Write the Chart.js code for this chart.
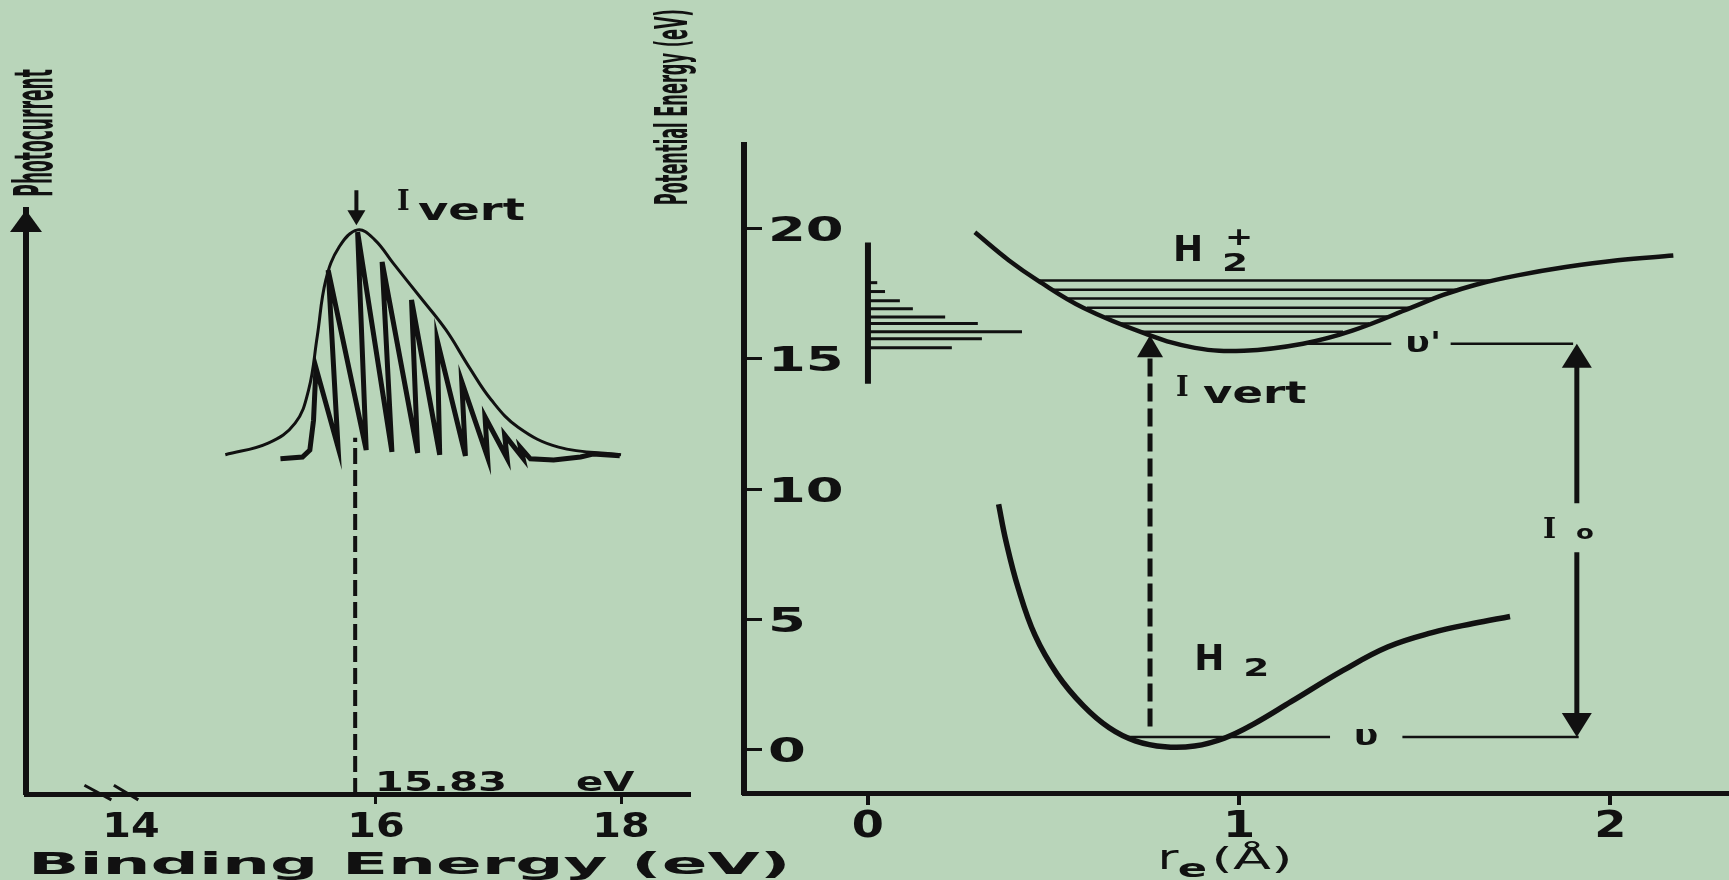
<!DOCTYPE html>
<html>
<head>
<meta charset="utf-8">
<title>H2 photoelectron band and potential energy curves</title>
<script src="https://cdn.jsdelivr.net/npm/chart.js@4.4.1/dist/chart.umd.min.js"></script>
<style>
  html, body { margin: 0; padding: 0; background: #b9d5ba; }
  #stage { position: relative; width: 1729px; height: 880px; overflow: hidden; }
  #stage canvas { position: absolute; top: 0; }
  #spectrum { left: 0; }
  #curves { left: 600px; }
</style>
</head>
<body>
<div id="stage">
  <canvas id="spectrum" width="800" height="880"></canvas>
  <canvas id="curves" width="1129" height="880"></canvas>
</div>
<script>
// left panel: H2 band, binding energy (eV) vs photocurrent (arb. units)
const beTicks = [14, 16, 18];
const resolvedBE = [15.22, 15.40, 15.46, 15.49, 15.51, 15.69, 15.61, 15.92, 15.85, 16.13, 16.05, 16.34, 16.29, 16.52, 16.50, 16.73, 16.70, 16.91, 16.89, 17.07, 17.05, 17.20, 17.18, 17.26, 17.45, 17.67, 17.77, 17.99];
const resolvedCurrent = [57.4, 57.7, 58.9, 64.0, 73.0, 59.4, 89.7, 58.9, 96.2, 58.6, 91.1, 58.4, 84.6, 58.1, 77.7, 57.9, 70.6, 57.7, 64.6, 57.5, 61.5, 57.5, 59.3, 57.4, 57.2, 57.7, 58.2, 57.9];
const envelopeBE = [14.77, 15.12, 15.34, 15.45, 15.52, 15.59, 15.70, 15.85, 15.99, 16.14, 16.36, 16.57, 16.76, 16.94, 17.16, 17.49, 18.00];
const envelopeCurrent = [58.1, 60.1, 63.5, 69.2, 78.3, 88.0, 93.7, 96.6, 94.9, 90.9, 85.1, 79.5, 73.1, 67.5, 62.8, 59.4, 58.1];
const verticalIP = 15.83;
const axisBreakBE = [[13.62, 13.84], [13.86, 14.06]];

// right panel: potential energy (eV) vs internuclear distance (Å)
const rTicks = [0, 1, 2];
const energyTicks = [0, 5, 10, 15, 20];
const ionR = [0.288, 0.380, 0.458, 0.580, 0.749, 0.881, 1.013, 1.172, 1.305, 1.464, 1.55, 1.64, 1.75, 1.88, 2.02, 2.17];
const ionE = [19.85, 18.77, 18.00, 16.96, 15.96, 15.42, 15.31, 15.58, 16.08, 16.96, 17.45, 17.85, 18.20, 18.52, 18.78, 18.96];
const neutralR = [0.352, 0.372, 0.405, 0.45, 0.51, 0.58, 0.65, 0.72, 0.80, 0.88, 0.96, 1.04, 1.14, 1.28, 1.40, 1.52, 1.63, 1.73];
const neutralE = [9.42, 8.0, 6.2, 4.4, 2.9, 1.7, 0.85, 0.35, 0.12, 0.15, 0.45, 1.0, 1.85, 3.05, 3.95, 4.5, 4.85, 5.12];
const ionLevelE = [18.00, 17.65, 17.31, 16.96, 16.62, 16.35, 16.04];
const ionLevelFrom = [0.46, 0.50, 0.54, 0.59, 0.64, 0.68, 0.735];
const ionLevelTo = [1.69, 1.60, 1.53, 1.47, 1.41, 1.35, 1.28];
const stickE = [17.92, 17.58, 17.23, 16.92, 16.60, 16.35, 16.04, 15.77, 15.42];
const stickLen = [0.025, 0.046, 0.086, 0.121, 0.208, 0.296, 0.415, 0.307, 0.226];
const stickSpan = [14.04, 19.46];
const vPrimeE = 15.58;
const vPrimeSegs = [[1.172, 1.41], [1.57, 1.90]];
const vE = 0.5;
const vSegs = [[0.695, 1.245], [1.44, 1.915]];
const vertR = 0.76;
const adiabR = 1.91;

const INK = '#111111';
const SANS = '"DejaVu Sans"';
const COND = '"DejaVu Sans Condensed", "DejaVu Sans"';

const pts = (xs, ys) => xs.map((x, i) => ({ x, y: ys[i] }));
const line = (data, extra) => Object.assign({
    data, borderColor: INK, borderWidth: 2.5, pointRadius: 0, tension: 0, fill: false, clip: false
}, extra);

function arrowHead(ctx, x, y, dir, w, len) {
    // dir 1 = points up, -1 = points down
    ctx.beginPath();
    ctx.moveTo(x, y);
    ctx.lineTo(x - w / 2, y + dir * len);
    ctx.lineTo(x + w / 2, y + dir * len);
    ctx.closePath();
    ctx.fill();
}

// the old figure is stretched sideways, so text gets a horizontal scale
function drawText(ctx, t, px, py) {
    ctx.save();
    ctx.font = t.font;
    ctx.textBaseline = 'alphabetic';
    ctx.textAlign = t.align || 'left';
    ctx.translate(px, py);
    ctx.scale(t.sx || 1, 1);
    if (t.rotate) ctx.rotate(t.rotate);
    ctx.fillText(t.text, 0, 0);
    ctx.restore();
}

// tick labels, labels and arrow heads, all placed through the chart's scales
function overlay(tickStyles, heads, texts) {
    return {
        id: 'overlay',
        afterDraw(chart) {
            const { ctx, scales } = chart;
            const { x, y } = scales;
            ctx.save();
            ctx.fillStyle = INK;
            tickStyles.forEach(ts => {
                const s = scales[ts.axis];
                s.ticks.forEach(t => {
                    const p = s.getPixelForValue(t.value);
                    const px = s.isHorizontal() ? p : s.right + ts.offset;
                    const py = s.isHorizontal() ? s.top + ts.offset : p + ts.shift;
                    drawText(ctx, { text: String(t.label), font: ts.font, sx: ts.sx, align: ts.align }, px, py);
                });
            });
            heads.forEach(h => arrowHead(ctx, x.getPixelForValue(h.x), y.getPixelForValue(h.y), h.dir, h.w, h.len));
            texts.forEach(t => drawText(ctx, t, x.getPixelForValue(t.x), y.getPixelForValue(t.y)));
            ctx.restore();
        }
    };
}

const spectrumTicks = [
    { axis: 'x', offset: 43, font: 'bold 33px ' + SANS, sx: 1.25, align: 'center' }
];
const spectrumHeads = [
    { x: 13.143, y: 100, dir: 1, w: 32, len: 22 },
    { x: 15.84, y: 97.4, dir: -1, w: 18, len: 15 }
];
const spectrumTexts = [
    { text: 'I', x: 16.171, y: 100, font: 'bold 27px "DejaVu Serif"' },
    { text: 'vert', x: 16.343, y: 98.3, font: 'bold 31px ' + SANS, sx: 1.5 },
    { text: '15.83', x: 15.99, y: 0.55, font: 'bold 27px ' + SANS, sx: 1.55 },
    { text: 'eV', x: 17.633, y: 0.55, font: 'bold 27px ' + SANS, sx: 1.49 },
    { text: 'Binding Energy (eV)', x: 13.159, y: -13.7, font: 'bold 30px ' + SANS, sx: 2.25 },
    { text: 'Photocurrent', x: 13.355, y: 113.2, font: 'bold 19px ' + COND, sx: 2.8, rotate: -Math.PI / 2, align: 'center' }
];

const curveTicks = [
    { axis: 'x', offset: 44, font: 'bold 37px ' + SANS, sx: 1.25, align: 'center' },
    { axis: 'y', offset: 24, shift: 12.5, font: 'bold 34px ' + SANS, sx: 1.6, align: 'left' }
];
const curveHeads = [
    { x: vertR, y: 15.9, dir: 1, w: 26, len: 22 },
    { x: adiabR, y: vPrimeE, dir: 1, w: 30, len: 24 },
    { x: adiabR, y: vE, dir: -1, w: 30, len: 24 }
];
const curveTexts = [
    { text: 'H', x: 0.822, y: 18.77, font: 'bold 36px ' + SANS },
    { text: '2', x: 0.954, y: 18.38, font: 'bold 25px ' + SANS, sx: 1.5 },
    { text: '+', x: 0.962, y: 19.35, font: 'bold 24px ' + SANS, sx: 1.4 },
    { text: 'I', x: 0.830, y: 13.58, font: 'bold 27px "DejaVu Serif"' },
    { text: 'vert', x: 0.903, y: 13.31, font: 'bold 31px ' + SANS, sx: 1.45 },
    { text: "υ'", x: 1.496, y: 15.27, font: 'bold 28px ' + SANS, sx: 1.3, align: 'center' },
    { text: 'υ', x: 1.342, y: 0.19, font: 'bold 28px ' + SANS, sx: 1.3, align: 'center' },
    { text: 'I', x: 1.819, y: 8.12, font: 'bold 28px "DejaVu Serif"' },
    { text: 'o', x: 1.908, y: 8.08, font: 'bold 20px ' + SANS, sx: 1.3 },
    { text: 'H', x: 0.879, y: 3.08, font: 'bold 36px ' + SANS },
    { text: '2', x: 1.011, y: 2.85, font: 'bold 25px ' + SANS, sx: 1.5 },
    { text: 'r', x: 0.78, y: -4.58, font: '34px ' + SANS, sx: 1.5 },
    { text: 'e', x: 0.835, y: -4.88, font: 'bold 24px ' + SANS, sx: 1.8 },
    { text: '(Å)', x: 0.925, y: -4.58, font: '30px ' + SANS, sx: 1.85 },
    { text: 'Potential Energy (eV)', x: -0.488, y: 24.65, font: 'bold 18px ' + COND, sx: 2.5, rotate: -Math.PI / 2, align: 'center' }
];

const common = {
    responsive: false,
    animation: false,
    devicePixelRatio: 1,
    plugins: { legend: { display: false }, tooltip: { enabled: false } },
    elements: { point: { radius: 0 } }
};

new Chart(document.getElementById('spectrum'), {
    type: 'line',
    data: {
        datasets: [
            line(pts(envelopeBE, envelopeCurrent), { borderWidth: 3, tension: 0.4 }),
            line(pts(resolvedBE, resolvedCurrent), { borderWidth: 5 }),
            line([{ x: verticalIP, y: 0 }, { x: verticalIP, y: 61 }], { borderWidth: 4, borderDash: [16, 6] }),
            line([{ x: 15.84, y: 103.4 }, { x: 15.84, y: 99 }], { borderWidth: 4 }),
            ...axisBreakBE.map(b => line([{ x: b[0], y: 1.5 }, { x: b[1], y: -1.0 }], { borderWidth: 3 }))
        ]
    },
    options: {
        ...common,
        layout: { padding: { top: 210, right: 111, left: 0, bottom: 0 } },
        scales: {
            x: {
                type: 'linear', min: 13.143, max: 18.555,
                afterBuildTicks: s => { s.ticks = beTicks.map(v => ({ value: v })); },
                afterFit: s => { s.height = 86; },
                border: { color: INK, width: 5 },
                grid: {
                    drawOnChartArea: false, tickLength: 10, lineWidth: 3,
                    color: c => (c.tick && c.tick.value === 14) ? 'rgba(0,0,0,0)' : INK
                },
                ticks: { display: false, autoSkip: false }
            },
            y: {
                type: 'linear', min: 0, max: 100,
                afterFit: s => { s.width = 26; },
                border: { color: INK, width: 6 },
                grid: { display: false },
                ticks: { display: false }
            }
        }
    },
    plugins: [overlay(spectrumTicks, spectrumHeads, spectrumTexts)]
});

new Chart(document.getElementById('curves'), {
    type: 'line',
    data: {
        datasets: [
            ...ionLevelE.map((e, i) => line([{ x: ionLevelFrom[i], y: e }, { x: ionLevelTo[i], y: e }], { borderWidth: 2.5 })),
            line([{ x: 0, y: stickSpan[0] }, { x: 0, y: stickSpan[1] }], { borderWidth: 6 }),
            ...stickE.map((e, i) => line([{ x: 0, y: e }, { x: stickLen[i], y: e }], { borderWidth: 3 })),
            ...vPrimeSegs.map(s => line([{ x: s[0], y: vPrimeE }, { x: s[1], y: vPrimeE }], { borderWidth: 2.5 })),
            ...vSegs.map(s => line([{ x: s[0], y: vE }, { x: s[1], y: vE }], { borderWidth: 2.5 })),
            line(pts(ionR, ionE), { borderWidth: 4.5, tension: 0.4 }),
            line(pts(neutralR, neutralE), { borderWidth: 5.5, tension: 0.4 }),
            line([{ x: vertR, y: 0.9 }, { x: vertR, y: 15.2 }], { borderWidth: 5, borderDash: [18, 7] }),
            line([{ x: adiabR, y: 14.9 }, { x: adiabR, y: 9.46 }], { borderWidth: 5 }),
            line([{ x: adiabR, y: 7.58 }, { x: adiabR, y: 1.2 }], { borderWidth: 5 })
        ]
    },
    options: {
        ...common,
        layout: { padding: { top: 145, right: 0, left: 0, bottom: 0 } },
        scales: {
            x: {
                type: 'linear', min: -0.334, max: 2.32,
                afterBuildTicks: s => { s.ticks = rTicks.map(v => ({ value: v })); },
                afterFit: s => { s.height = 87; },
                border: { color: INK, width: 5 },
                grid: { drawOnChartArea: false, tickLength: 12, lineWidth: 4, color: INK },
                ticks: { display: false, autoSkip: false }
            },
            y: {
                type: 'linear', min: -1.65, max: 23.2,
                afterBuildTicks: s => { s.ticks = energyTicks.map(v => ({ value: v })); },
                afterFit: s => { s.width = 144; },
                border: { color: INK, width: 6 },
                grid: { drawOnChartArea: false, tickLength: -18, lineWidth: 3, color: INK },
                ticks: { display: false }
            }
        }
    },
    plugins: [overlay(curveTicks, curveHeads, curveTexts)]
});
</script>
</body>
</html>
